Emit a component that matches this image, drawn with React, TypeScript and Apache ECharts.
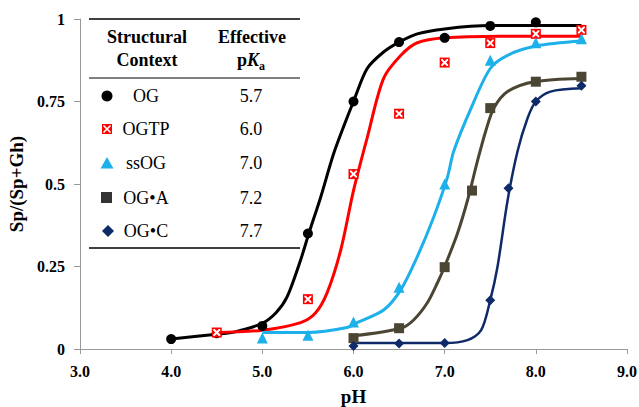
import React, { useEffect, useRef } from "react";
import * as echarts from "echarts";

const FONT = "Liberation Serif";

// measured points
const ogPoints = [[4.0, 0.03], [4.5, 0.048], [5.0, 0.07], [5.5, 0.35], [6.0, 0.75], [6.5, 0.93], [7.0, 0.943], [7.5, 0.979], [8.0, 0.99]];
const ogtpPoints = [[4.5, 0.05], [5.5, 0.151], [6.0, 0.53], [6.5, 0.713], [7.0, 0.868], [7.5, 0.927], [8.0, 0.955], [8.5, 0.967]];
const ssogPoints = [[5.0, 0.033], [5.5, 0.042], [6.0, 0.082], [6.5, 0.187], [7.0, 0.5], [7.5, 0.875], [8.0, 0.928], [8.5, 0.94]];
const ogaPoints = [[6.0, 0.033], [6.5, 0.063], [7.0, 0.248], [7.3, 0.48], [7.5, 0.73], [8.0, 0.81], [8.5, 0.825]];
const ogcPoints = [[6.0, 0.009], [6.5, 0.017], [7.0, 0.018], [7.5, 0.148], [7.7, 0.487], [8.0, 0.75], [8.5, 0.798]];

// fitted curves
const ogCurve = [[4.0, 0.03], [4.5, 0.045], [4.7, 0.052], [5.0, 0.078], [5.15, 0.11], [5.27, 0.157], [5.42, 0.27], [5.51, 0.35], [5.64, 0.46], [5.78, 0.59], [5.9, 0.68], [6.0, 0.75], [6.15, 0.85], [6.33, 0.9], [6.5, 0.93], [6.7, 0.955], [7.0, 0.97], [7.5, 0.98], [8.5, 0.98]];
const ogtpCurve = [[4.5, 0.05], [5.0, 0.057], [5.42, 0.08], [5.58, 0.108], [5.71, 0.17], [5.86, 0.3], [6.0, 0.48], [6.15, 0.64], [6.33, 0.82], [6.52, 0.89], [6.7, 0.928], [7.0, 0.943], [7.6, 0.948], [8.5, 0.948]];
const ssogCurve = [[5.0, 0.05], [5.5, 0.05], [5.93, 0.065], [6.04, 0.08], [6.33, 0.118], [6.52, 0.18], [6.7, 0.28], [6.88, 0.4], [7.03, 0.52], [7.1, 0.6], [7.29, 0.73], [7.5, 0.85], [7.69, 0.89], [8.0, 0.918], [8.5, 0.933]];
const ogaCurve = [[6.0, 0.04], [6.52, 0.063], [6.66, 0.088], [6.81, 0.14], [6.92, 0.2], [7.0, 0.25], [7.14, 0.35], [7.25, 0.45], [7.36, 0.57], [7.45, 0.66], [7.54, 0.73], [7.69, 0.78], [7.98, 0.81], [8.5, 0.82]];
const ogcCurve = [[6.0, 0.018], [7.0, 0.018], [7.25, 0.027], [7.4, 0.057], [7.5, 0.148], [7.58, 0.25], [7.69, 0.45], [7.8, 0.6], [7.91, 0.7], [8.0, 0.75], [8.16, 0.78], [8.5, 0.79]];

const tableNames = ["OG", "OGTP", "ssOG", "OG\u2022A", "OG\u2022C"];
const tablePka = ["5.7", "6.0", "7.0", "7.2", "7.7"];

const C_BLACK = "#000000";
const C_RED = "#ff0000";
const C_CYAN = "#1db0ea";
const C_OLIVE = "#4b4634";
const C_NAVY = "#0f2a68";
const C_TABLE_SQ = "#333333";

const X_PATH = "path://M0,0 L2,0 L5,3 L8,0 L10,0 L10,2 L7,5 L10,8 L10,10 L8,10 L5,7 L2,10 L0,10 L0,8 L3,5 L0,2 Z";

export default function App() {
  const ref = useRef<HTMLDivElement>(null);
  useEffect(() => {
    const chart = echarts.init(ref.current!, undefined, { renderer: "svg" });

    const curve = (data: number[][], color: string, width: number) => ({
      type: "line",
      data,
      showSymbol: false,
      smooth: 0.3,
      lineStyle: { color, width },
      z: 2,
      silent: true,
    });
    const pts = (data: number[][], symbol: string, size: number, color: string, z = 3) => ({
      type: "scatter",
      data,
      symbol,
      symbolSize: size,
      itemStyle: { color, opacity: 1 },
      z,
      silent: true,
    });

    const rowY = [96, 129, 163, 198, 231];
    const mx = 107;
    const graphic: any[] = [];
    const hline = (y: number, w: number) => ({
      type: "line",
      shape: { x1: 89, y1: y, x2: 300, y2: y },
      style: { stroke: "#000", lineWidth: w },
      z: 10,
    });
    graphic.push(hline(19, 1.3), hline(78, 1), hline(248, 1.3));
    const txt = (text: string, x: number, y: number, bold: boolean, size = 18) => ({
      type: "text",
      x,
      y,
      style: {
        text,
        fontFamily: FONT,
        fontWeight: bold ? "bold" : "normal",
        fontSize: size,
        fill: "#000",
        align: "center",
        verticalAlign: "middle",
      },
      z: 10,
    });
    graphic.push(txt("Structural", 147, 37, true), txt("Context", 147, 60, true), txt("Effective", 252, 37, true));
    graphic.push({
      type: "text",
      x: 237,
      y: 60,
      style: {
        text: "{p|p}{k|K}",
        align: "left",
        verticalAlign: "middle",
        fill: "#000",
        rich: {
          p: { fontFamily: FONT, fontWeight: "bold", fontSize: 18 },
          k: { fontFamily: FONT, fontWeight: "bold", fontStyle: "italic", fontSize: 18 },
        },
      },
      z: 10,
    });
    graphic.push({
      type: "text",
      x: 259,
      y: 66,
      style: { text: "a", fontFamily: FONT, fontWeight: "bold", fontSize: 12, fill: "#000", align: "left", verticalAlign: "middle" },
      z: 10,
    });
    tableNames.forEach((n, i) => {
      graphic.push(txt(n, 146, rowY[i], false));
      graphic.push(txt(tablePka[i], 251, rowY[i], false));
    });
    // table markers
    graphic.push({ type: "circle", shape: { cx: mx, cy: rowY[0], r: 5.5 }, style: { fill: C_BLACK }, z: 10 });
    graphic.push({ type: "rect", shape: { x: mx - 5, y: rowY[1] - 5, width: 10, height: 10 }, style: { fill: C_RED }, z: 10 });
    graphic.push({ type: "line", shape: { x1: mx - 3.5, y1: rowY[1] - 3.5, x2: mx + 3.5, y2: rowY[1] + 3.5 }, style: { stroke: "#fff", lineWidth: 1.6 }, z: 11 });
    graphic.push({ type: "line", shape: { x1: mx + 3.5, y1: rowY[1] - 3.5, x2: mx - 3.5, y2: rowY[1] + 3.5 }, style: { stroke: "#fff", lineWidth: 1.6 }, z: 11 });
    graphic.push({ type: "polygon", shape: { points: [[mx, rowY[2] - 6], [mx + 6.5, rowY[2] + 5.5], [mx - 6.5, rowY[2] + 5.5]] }, style: { fill: C_CYAN }, z: 10 });
    graphic.push({ type: "rect", shape: { x: mx - 6, y: rowY[3] - 6, width: 11, height: 11 }, style: { fill: C_TABLE_SQ }, z: 10 });
    graphic.push({ type: "polygon", shape: { points: [[mx + 1, rowY[4] - 6], [mx + 7, rowY[4]], [mx + 1, rowY[4] + 6], [mx - 5, rowY[4]]] }, style: { fill: C_NAVY }, z: 10 });

    chart.setOption({
      animation: false,
      backgroundColor: "#ffffff",
      grid: { left: 80, right: 12, top: 19, bottom: 58, outerBoundsMode: "none", containLabel: false },
      xAxis: {
        type: "value",
        min: 3,
        max: 9,
        interval: 1,
        name: "pH",
        nameLocation: "middle",
        nameGap: 38,
        nameTextStyle: { fontFamily: FONT, fontWeight: "bold", fontSize: 19, color: "#000" },
        axisLine: { show: true, onZero: false, lineStyle: { color: "#999999", width: 1 } },
        axisTick: { show: true, length: 5, lineStyle: { color: "#999999" } },
        axisLabel: { fontFamily: FONT, fontWeight: "bold", fontSize: 16, color: "#000", margin: 14, formatter: (v: number) => v.toFixed(1) },
        splitLine: { show: false },
      },
      yAxis: {
        type: "value",
        min: 0,
        max: 1,
        interval: 0.25,
        name: "Sp/(Sp+Gh)",
        nameLocation: "middle",
        nameGap: 47,
        nameTextStyle: { fontFamily: FONT, fontWeight: "bold", fontSize: 19, color: "#000" },
        axisLine: { show: true, lineStyle: { color: "#999999", width: 1 } },
        axisTick: { show: true, length: 6, lineStyle: { color: "#999999" } },
        axisLabel: { fontFamily: FONT, fontWeight: "bold", fontSize: 16, color: "#000", margin: 15 },
        splitLine: { show: false },
      },
      series: [
        curve(ogCurve, C_BLACK, 3),
        curve(ogtpCurve, C_RED, 3),
        curve(ssogCurve, C_CYAN, 3),
        curve(ogaCurve, C_OLIVE, 3),
        curve(ogcCurve, C_NAVY, 2.5),
        pts(ogPoints, "circle", 10, C_BLACK),
        pts(ogtpPoints, "rect", 10, C_RED),
        pts(ogtpPoints, X_PATH, 7, "#ffffff", 4),
        pts(ssogPoints, "triangle", 11, C_CYAN),
        pts(ogaPoints, "rect", 10, C_OLIVE),
        pts(ogcPoints, "diamond", 10, C_NAVY),
      ],
      graphic,
    });
    return () => chart.dispose();
  }, []);
  return <div ref={ref} style={{ position: "absolute", left: 0, top: 0, width: 639, height: 407 }} />;
}
